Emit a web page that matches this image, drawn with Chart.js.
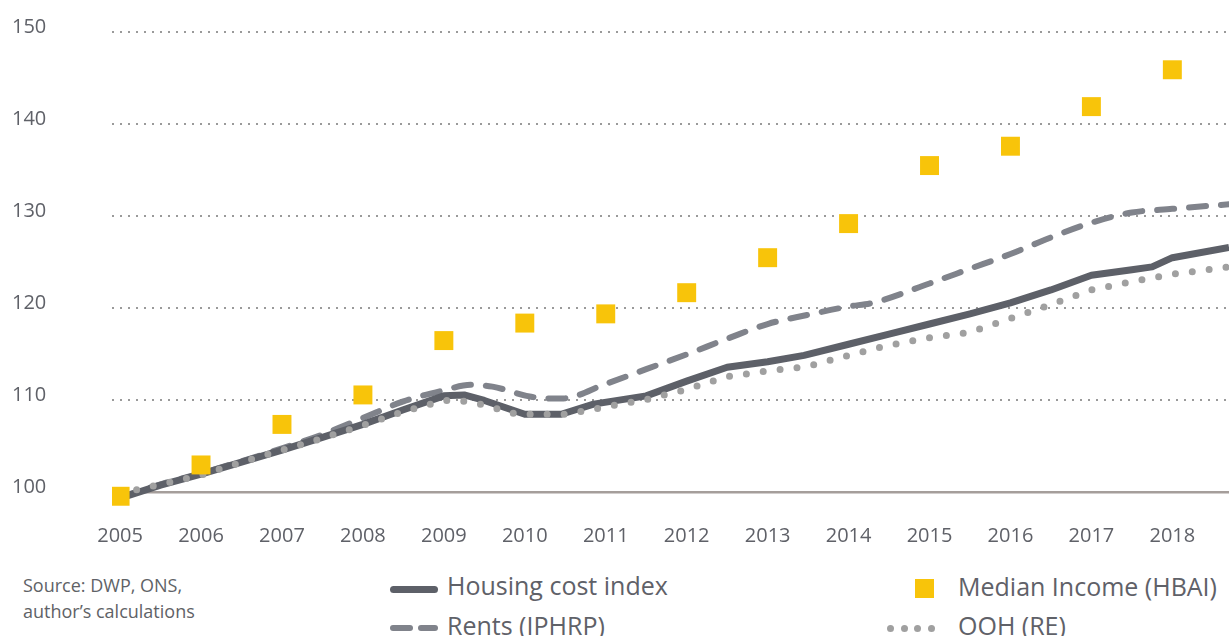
<!DOCTYPE html>
<html>
<head>
<meta charset="utf-8">
<script src="https://cdn.jsdelivr.net/npm/chart.js@4.4.1/dist/chart.umd.min.js"></script>
<style>
  body { margin: 0; background: #fff; }
  #wrap { position: relative; width: 1229px; height: 636px; overflow: hidden; font-family: "Open Sans", sans-serif; }
  canvas { position: absolute; left: 0; top: 0; }
  .src { position: absolute; left: 23px; top: 572px; font-size: 18px; line-height: 26px; color: #606266; }
  .txt { position: absolute; font-size: 25px; line-height: 30px; color: #5f6168; white-space: nowrap; }
  .sym { position: absolute; }
</style>
</head>
<body>
<div id="wrap">
  <canvas id="chart" width="1229" height="555"></canvas>
  <div class="src">Source: DWP, ONS,<br>author’s calculations</div>

  <div class="sym" style="left:390px;top:586px;width:48px;height:7px;border-radius:4px;background:#5d6068"></div>
  <div class="txt" style="left:447px;top:570px">Housing cost index</div>

  <div class="sym" style="left:390px;top:625px;width:23px;height:6px;border-radius:3px;background:#80838b"></div>
  <div class="sym" style="left:418px;top:625px;width:20px;height:6px;border-radius:3px;background:#80838b"></div>
  <div class="txt" style="left:447px;top:610px">Rents (IPHRP)</div>

  <div class="sym" style="left:915px;top:579px;width:19px;height:19px;background:#f8c40a"></div>
  <div class="txt" style="left:958px;top:571px">Median Income (HBAI)</div>

  <div class="sym" style="left:887px;top:625px;width:7px;height:7px;border-radius:50%;background:#a0a0a0"></div>
  <div class="sym" style="left:901px;top:625px;width:7px;height:7px;border-radius:50%;background:#a0a0a0"></div>
  <div class="sym" style="left:914px;top:625px;width:7px;height:7px;border-radius:50%;background:#a0a0a0"></div>
  <div class="sym" style="left:928px;top:625px;width:7px;height:7px;border-radius:50%;background:#a0a0a0"></div>
  <div class="txt" style="left:958px;top:610px">OOH (RE)</div>
</div>

<script>
// x axis: years, y axis: index (2005 = 100)
const years = [2005, 2006, 2007, 2008, 2009, 2010, 2011, 2012, 2013, 2014, 2015, 2016, 2017, 2018];
const yTicks = [100, 110, 120, 130, 140, 150];

// Median Income (HBAI) - one value per year
const medianIncome = [99.6, 103.0, 107.4, 110.6, 116.5, 118.4, 119.4, 121.7, 125.5, 129.2, 135.5, 137.6, 141.9, 145.9];

// Housing cost index
const housingYears = [2005, 2005.5, 2006, 2006.5, 2007, 2007.5, 2008, 2008.5, 2009, 2009.25, 2009.5, 2010, 2010.45,
  2010.85, 2011.5, 2012, 2012.5, 2013, 2013.45, 2014, 2014.5, 2015, 2015.5, 2016, 2016.5, 2017, 2017.5, 2017.75, 2018, 2018.7];
const housingIndex = [99.4, 100.8, 102.0, 103.3, 104.6, 106.0, 107.4, 109.0, 110.5, 110.6, 110.0, 108.5, 108.5,
  109.6, 110.5, 112.1, 113.6, 114.2, 114.9, 116.1, 117.2, 118.3, 119.4, 120.6, 122.0, 123.6, 124.2, 124.5, 125.5, 126.6];

// Rents (IPHRP)
const rentsYears = [2005, 2005.5, 2006, 2006.5, 2007, 2007.5, 2008, 2008.5, 2009, 2009.33, 2009.6, 2010.08, 2010.45,
  2011, 2011.5, 2012, 2012.5, 2013, 2013.5, 2014, 2014.3, 2015, 2015.5, 2016, 2016.5, 2017, 2017.5, 2018, 2018.7];
const rentsIndex = [99.5, 100.9, 102.1, 103.4, 104.8, 106.3, 108.1, 109.9, 111.1, 111.7, 111.5, 110.4, 110.2,
  111.8, 113.4, 115.0, 116.7, 118.3, 119.3, 120.2, 120.6, 122.7, 124.3, 125.9, 127.7, 129.3, 130.4, 130.8, 131.3];

// OOH (RE)
const oohYears = [2005, 2005.5, 2006, 2006.5, 2007, 2007.5, 2008, 2008.5, 2009, 2009.25, 2009.5, 2009.9, 2010.5,
  2011, 2011.5, 2012, 2012.5, 2013, 2013.5, 2014, 2014.5, 2015, 2015.5, 2016, 2016.5, 2017, 2017.5, 2018, 2018.7];
const oohIndex = [99.9, 100.9, 101.9, 103.3, 104.6, 105.9, 107.3, 108.8, 110.0, 109.9, 109.5, 108.5, 108.5,
  109.3, 110.1, 111.2, 112.6, 113.2, 113.7, 114.9, 116.0, 116.8, 117.4, 118.9, 120.4, 122.0, 122.9, 123.7, 124.5];

// junta x e y en puntos
function pairs(xs, ys) {
  return xs.map((x, i) => ({ x: x, y: ys[i] }));
}

const textColor = '#5f6168';
const axisFont = { family: 'Open Sans', size: 20 };

new Chart(document.getElementById('chart').getContext('2d'), {
  type: 'line',
  data: {
    datasets: [
      {
        label: 'Median Income (HBAI)',
        data: pairs(years, medianIncome),
        showLine: false,
        pointStyle: 'rect',
        pointRadius: 13.4,
        pointBackgroundColor: '#f8c40a',
        pointBorderColor: '#f8c40a',
        pointBorderWidth: 0,
        order: 0
      },
      {
        label: 'OOH (RE)',
        data: pairs(oohYears, oohIndex),
        borderColor: '#a0a0a0',
        borderWidth: 7,
        borderDash: [0, 17],
        borderCapStyle: 'round',
        pointRadius: 0,
        order: 1
      },
      {
        label: 'Housing cost index',
        data: pairs(housingYears, housingIndex),
        borderColor: '#5d6068',
        borderWidth: 7,
        borderJoinStyle: 'round',
        pointRadius: 0,
        order: 2
      },
      {
        label: 'Rents (IPHRP)',
        data: pairs(rentsYears, rentsIndex),
        borderColor: '#80838b',
        borderWidth: 6,
        borderDash: [17, 15],
        borderCapStyle: 'round',
        cubicInterpolationMode: 'monotone',
        pointRadius: 0,
        order: 3
      }
    ]
  },
  options: {
    responsive: false,
    animation: false,
    devicePixelRatio: 1,
    layout: { autoPadding: false, padding: { left: 12, right: 0, top: 32, bottom: 0 } },
    plugins: { legend: { display: false }, tooltip: { enabled: false } },
    scales: {
      x: {
        type: 'linear',
        min: 2004.9,
        max: 2018.7,
        afterBuildTicks: s => { s.ticks = years.map(v => ({ value: v })); },
        afterFit: s => { s.height = 44; },
        grid: { display: false, drawTicks: false },
        border: { display: false },
        ticks: {
          autoSkip: false,
          maxRotation: 0,
          padding: 13,
          color: textColor,
          font: axisFont,
          callback: v => String(v)
        }
      },
      y: {
        min: 98,
        max: 150,
        afterBuildTicks: s => { s.ticks = yTicks.map(v => ({ value: v })); },
        afterFit: s => { s.width = 100; },
        grid: {
          drawTicks: false,
          color: c => (c.tick && c.tick.value === 100) ? '#a59e9b' : '#9a9a9a',
          lineWidth: c => (c.tick && c.tick.value === 100) ? 2.5 : 2
        },
        border: {
          display: false,
          dash: c => (c.tick && c.tick.value === 100) ? [] : [2, 6]
        },
        ticks: {
          crossAlign: 'far',
          labelOffset: -5,
          padding: 0,
          color: textColor,
          font: axisFont,
          callback: v => String(v)
        }
      }
    }
  }
});
</script>
</body>
</html>
